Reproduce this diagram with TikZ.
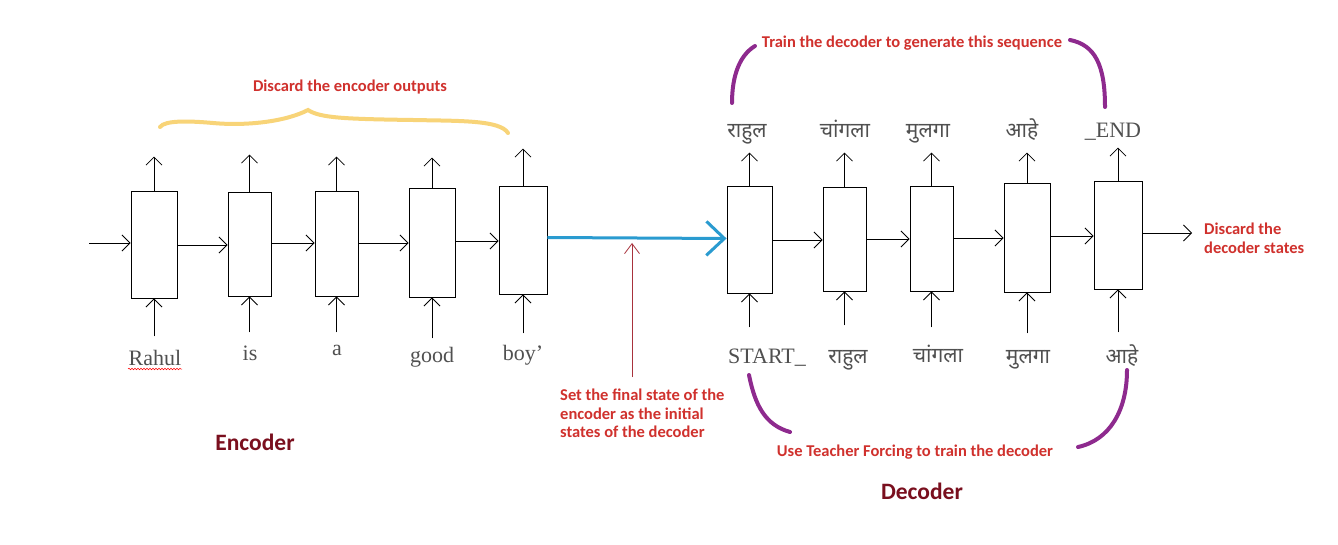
\documentclass[tikz,border=0pt]{standalone}
\usepackage{fontspec}
\usetikzlibrary{arrows.meta,decorations.pathmorphing}
\newfontfamily\serifw{Liberation Serif}
\newfontfamily\calib{Carlito}
\newfontfamily\deva[Script=Devanagari]{Noto Sans}
\definecolor{wordgray}{HTML}{505050}
\definecolor{annred}{HTML}{D0312D}
\definecolor{titred}{HTML}{7A0F1E}
\definecolor{seqblue}{HTML}{2A9BD0}
\definecolor{arcpurple}{HTML}{8E2A8E}
\definecolor{braceyel}{HTML}{F8D478}
\definecolor{pointred}{HTML}{A8323C}
\begin{document}
\begin{tikzpicture}[x=1pt,y=-1pt,
  cell/.style={draw=black, line width=0.9pt, fill=white, inner sep=0pt},
  arr/.style={draw=black, line width=0.8pt, -{Straight Barb[length=8pt,width=16pt]}},
  wordE/.style={font=\serifw\fontsize{22}{24}\selectfont, text=wordgray, inner sep=0pt, anchor=base},
  wordD/.style={font=\deva\fontsize{21}{24}\selectfont, text=wordgray, inner sep=0pt, anchor=base},
  ann/.style={font=\calib\bfseries\fontsize{16.5}{18.5}\selectfont, text=annred, inner sep=0pt, align=left},
  title/.style={font=\calib\bfseries\fontsize{23.5}{26}\selectfont, text=titred, inner sep=0pt},
  arc/.style={draw=arcpurple, line width=4pt, line cap=round},
]
\useasboundingbox (0,0) rectangle (1338,545);
\fill[white] (0,0) rectangle (1338,545);

% ---------- encoder cells ----------
\node[cell, minimum width=46pt, minimum height=107pt] (e1) at (154,244.5) {};
\node[cell, minimum width=43pt, minimum height=104pt] (e2) at (249.5,244) {};
\node[cell, minimum width=43pt, minimum height=105pt] (e3) at (336.5,243.5) {};
\node[cell, minimum width=46pt, minimum height=109pt] (e4) at (432,242.5) {};
\node[cell, minimum width=48pt, minimum height=108pt] (e5) at (523,240) {};

\coordinate (ein) at (89,243);
\draw[arr] (ein) -- (ein -| e1.west);
\draw[arr] (e1.east |- 0,245) -- (e2.west |- 0,245);
\draw[arr] (e2.east |- 0,243) -- (e3.west |- 0,243);
\draw[arr] (e3.east |- 0,243) -- (e4.west |- 0,243);
\draw[arr] (e4.east |- 0,241) -- (e5.west |- 0,241);

% outputs of encoder
\draw[arr] (e1.north) -- ++(0,-34);
\draw[arr] (e2.north) -- ++(0,-37);
\draw[arr] (e3.north) -- ++(0,-34);
\draw[arr] (e4.north) -- ++(0,-30);
\draw[arr] (e5.north) -- ++(0,-37);

% inputs of encoder
\draw[arr] (e1.south) ++(0,38) -- (e1.south);
\draw[arr] (e2.south) ++(0,36) -- (e2.south);
\draw[arr] (e3.south) ++(0,36) -- (e3.south);
\draw[arr] (e4.south) ++(0,41) -- (e4.south);
\draw[arr] (e5.south) ++(0,39) -- (e5.south);

% encoder words
\node[wordE] (w1) at (155,365) {Rahul};
\node[wordE] (w2) at (250,360) {is};
\node[wordE] (w3) at (337,355) {a};
\node[wordE] (w4) at (432,362) {good};
\node[wordE] (w5) at (523,360) {boy’};
\draw[red, line width=0.5pt, decorate, decoration={snake, amplitude=0.8pt, segment length=3pt}] (128,369) -- (182,369);

% yellow brace
\draw[draw=braceyel, line width=4pt, line cap=round]
  (160,127) .. controls (165,120) and (190,121) .. (213,123)
  .. controls (245,126) and (285,122) .. (308,110)
  .. controls (320,118) and (345,119) .. (413,120)
  .. controls (460,121) and (500,120) .. (508,133);
\node[ann] (disc) at (350,87) {Discard the encoder outputs};

% ---------- decoder cells ----------
\node[cell, minimum width=45pt, minimum height=107pt] (d1) at (749.5,239.5) {};
\node[cell, minimum width=43pt, minimum height=104pt] (d2) at (844.5,239) {};
\node[cell, minimum width=43pt, minimum height=105pt] (d3) at (931.5,238.5) {};
\node[cell, minimum width=46pt, minimum height=109pt] (d4) at (1027,237.5) {};
\node[cell, minimum width=48pt, minimum height=108pt] (d5) at (1118,235) {};

\draw[arr] (d1.east |- 0,240) -- (d2.west |- 0,240);
\draw[arr] (d2.east |- 0,239) -- (d3.west |- 0,239);
\draw[arr] (d3.east |- 0,238) -- (d4.west |- 0,238);
\draw[arr] (d4.east |- 0,236) -- (d5.west |- 0,236);
\coordinate (dout) at (1192,233);
\draw[arr] (d5.east |- dout) -- (dout);

% decoder outputs
\draw[arr] (d1.north) -- ++(0,-33);
\draw[arr] (d2.north) -- ++(0,-34);
\draw[arr] (d3.north) -- ++(0,-33);
\draw[arr] (d4.north) -- ++(0,-30);
\draw[arr] (d5.north) -- ++(0,-33);

% decoder inputs
\draw[arr] (d1.south) ++(0,34) -- (d1.south);
\draw[arr] (d2.south) ++(0,34) -- (d2.south);
\draw[arr] (d3.south) ++(0,36) -- (d3.south);
\draw[arr] (d4.south) ++(0,41) -- (d4.south);
\draw[arr] (d5.south) ++(0,43) -- (d5.south);

% decoder output words
\node[wordD] (o1) at (747,138) {राहुल};
\node[wordD] (o2) at (845,138) {चांगला};
\node[wordD] (o3) at (928,138) {मुलगा};
\node[wordD] (o4) at (1022,138) {आहे};
\node[wordE] (o5) at (1113,138) {\_END};

% decoder input words
\node[wordE] (i1) at (767,363) {START\_};
\node[wordD] (i2) at (848,363) {राहुल};
\node[wordD] (i3) at (938,362) {चांगला};
\node[wordD] (i4) at (1028,363) {मुलगा};
\node[wordD] (i5) at (1122,363) {आहे};

% blue state transfer
\draw[draw=seqblue, line width=3pt, -{Straight Barb[length=18pt,width=34pt]}] (e5.east |- 0,237.5) -- (d1.west |- 0,238.5);

% pointer to the state transfer
\coordinate (ptr) at (632,243);
\coordinate (ptrbase) at (632,377);
\draw[draw=pointred, line width=0.8pt, -{Straight Barb[length=10pt,width=15pt]}] (ptrbase) -- (ptr);
\node[ann, anchor=north west] (setst) at (560,389) {Set the final state of the\\encoder as the initial\\states of the decoder};

% annotations decoder
\node[ann, anchor=north west] (discd) at (1204,223) {Discard the\\decoder states};
\node[ann] (train) at (912,43) {Train the decoder to generate this sequence};
\node[ann] (teach) at (915,452) {Use Teacher Forcing to train the decoder};

% purple arcs
\draw[arc] (732,103) .. controls (732,75) and (740,55) .. (755,46);
\draw[arc] (1070,40) .. controls (1095,45) and (1105,65) .. (1105,107);
\draw[arc] (749,375) .. controls (755,405) and (765,425) .. (790,432);
\draw[arc] (1127,370) .. controls (1127,410) and (1110,440) .. (1078,447);

% titles
\node[title] (enc) at (255,442) {Encoder};
\node[title] (dec) at (922,491) {Decoder};
\end{tikzpicture}
\end{document}
